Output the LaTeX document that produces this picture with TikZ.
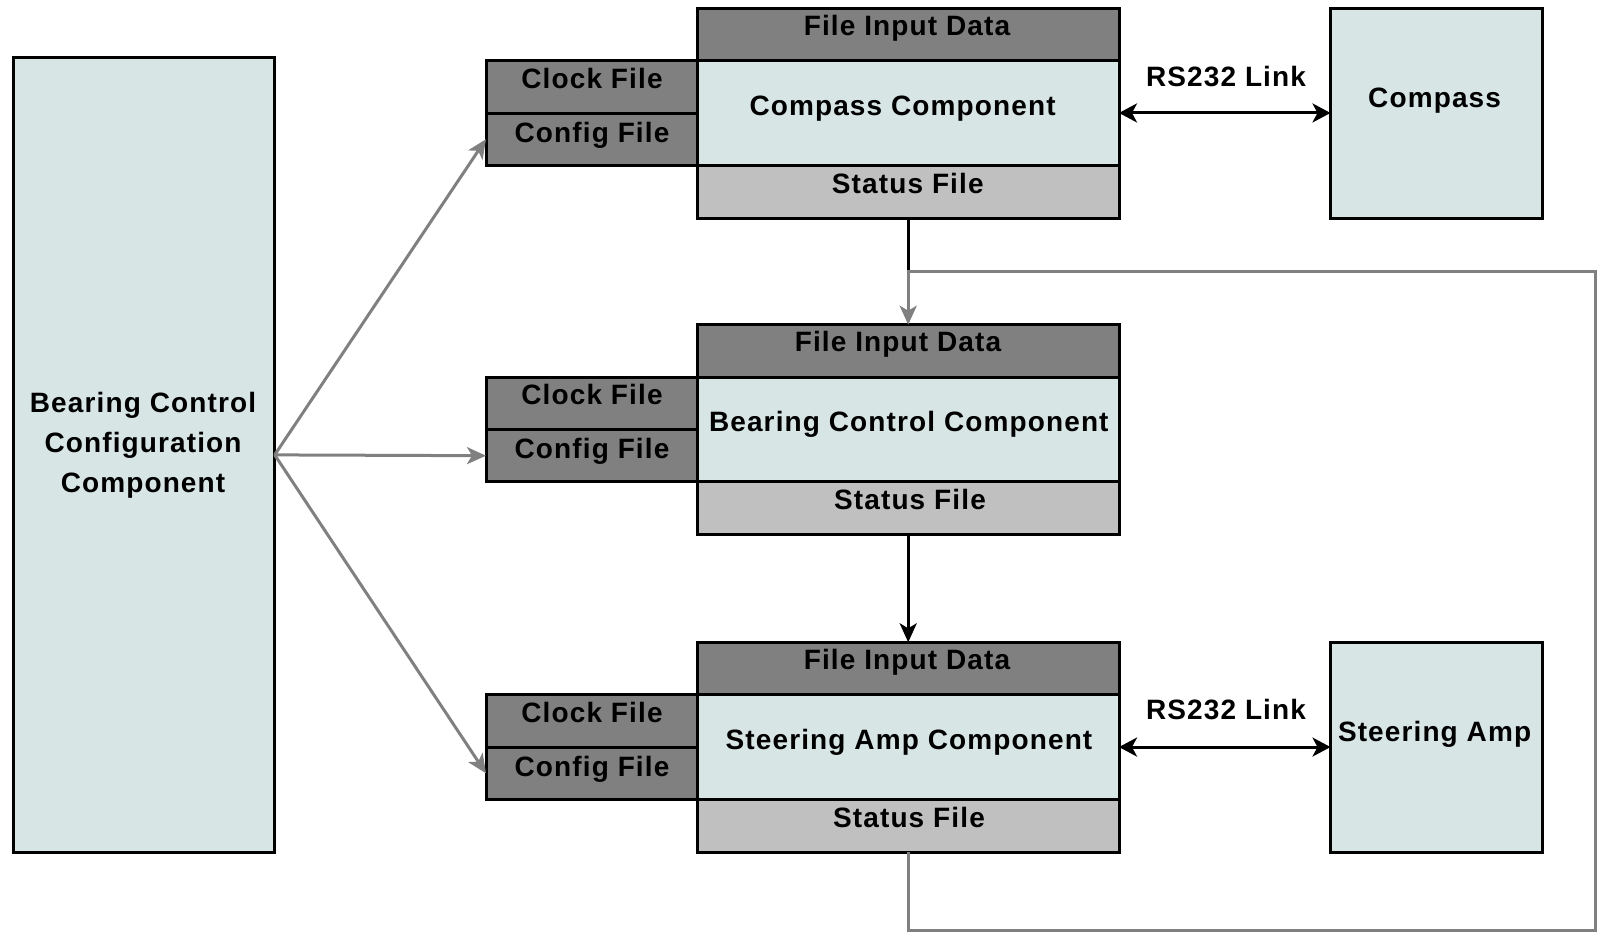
\documentclass[tikz,border=0pt]{standalone}
\usepackage{fontspec}
\setmainfont{Liberation Sans}[LetterSpace=4]
\usetikzlibrary{arrows.meta}
\definecolor{lightfill}{RGB}{216,229,229}
\definecolor{darkfill}{RGB}{128,128,128}
\definecolor{statfill}{RGB}{192,192,192}
\definecolor{linegray}{RGB}{128,128,128}
% #1 prefix, #2 top y, #3 component text, #4 fid text x, #5 comp text x, #6 status text x
\newcommand{\CompGroup}[6]{%
  \node[darkbox, minimum width=421.6pt, minimum height=52.5pt] (#1fid) at (697.4,#2) {};
  \node[lightbox, minimum width=421.6pt, minimum height=104.5pt] (#1comp) at (697.4,#2+52.5) {};
  \node[darkbox, minimum width=211.4pt, minimum height=52.5pt] (#1clk) at (486,#2+52.5) {};
  \node[darkbox, minimum width=211.4pt, minimum height=52pt] (#1cfg) at (486,#2+105) {};
  \node[statbox, minimum width=421.6pt, minimum height=53pt] (#1stat) at (697.4,#2+157) {};
  \node[txt] (#1fidt) at (#4,#2+27) {File Input Data};
  \node[txt] (#1clkt) at (592,#2+80) {Clock File};
  \node[txt] (#1cfgt) at (592,#2+134) {Config File};
  \node[txt] (#1compt) at (#5,#2+107) {#3};
  \node[txt] (#1statt) at (#6,#2+185) {Status File};
}
\begin{document}
\begin{tikzpicture}[x=1pt,y=-1pt,
  every node/.style={font=\fontsize{28}{40}\selectfont\bfseries},
  boxbase/.style={draw=black, line width=3pt, rectangle, inner sep=0pt, outer sep=0pt, anchor=north west},
  lightbox/.style={boxbase, fill=lightfill},
  darkbox/.style={boxbase, fill=darkfill},
  statbox/.style={boxbase, fill=statfill},
  txt/.style={inner sep=0pt, anchor=base},
  grayarrow/.style={draw=linegray, line width=3pt, -{Stealth[length=19pt,width=17pt,inset=5pt]}},
  blackarrow/.style={draw=black, line width=3pt, -{Stealth[length=19pt,width=17pt,inset=5pt]}},
  linkarrow/.style={draw=black, line width=3pt, {Stealth[length=18pt,width=19pt,inset=5pt]}-{Stealth[length=18pt,width=19pt,inset=5pt]}},
  blackline/.style={draw=black, line width=3pt},
]
\useasboundingbox (0,0) rectangle (1601,932);

% left configuration component
\node[lightbox, minimum width=261.4pt, minimum height=795.4pt] (bcc) at (13.3,57.2) {};
\node[inner sep=0pt, align=center] (bcct) at (143,445) {Bearing Control\\Configuration\\Component};

% component groups
\CompGroup{c1}{8.2}{Compass Component}{907}{902.6}{907.8}
\CompGroup{c2}{324.7}{Bearing Control Component}{898}{908.8}{910}
\CompGroup{c3}{642.3}{Steering Amp Component}{907}{909}{909}

% devices
\node[lightbox, minimum width=211.5pt, minimum height=210.3pt] (compass) at (1330.5,8.2) {};
\node[txt] (compasst) at (1434.6,107) {Compass};
\node[lightbox, minimum width=211.5pt, minimum height=210.3pt] (steer) at (1330.5,642.3) {};
\node[txt] (steert) at (1434.6,741) {Steering Amp};

% RS232 links
\draw[linkarrow] (c1comp.east) -- (compass.west |- c1comp.east);
\node[txt] (rs1) at (1226,86.6) {RS232 Link};
\draw[linkarrow] (c3comp.east) -- (steer.west |- c3comp.east);
\node[txt] (rs2) at (1226,719.7) {RS232 Link};

% configuration arrows
\draw[grayarrow] (bcc.east) -- (c1cfg.west);
\draw[grayarrow] (bcc.east) -- (c2cfg.west);
\draw[grayarrow] (bcc.east) -- (c3cfg.west);

% status flow
\coordinate (j) at (908.2,271);
\coordinate (lp1) at (908.2,930);
\coordinate (lp2) at (1595,930);
\coordinate (lp3) at (1595,271);
\draw[blackline] (c1stat.south) -- (j);
\draw[grayarrow] (c3stat.south) -- (lp1) -- (lp2) -- (lp3) -- (j) -- (c2fid.north);
\draw[blackarrow] (c2stat.south) -- (c3fid.north);
\end{tikzpicture}
\end{document}
